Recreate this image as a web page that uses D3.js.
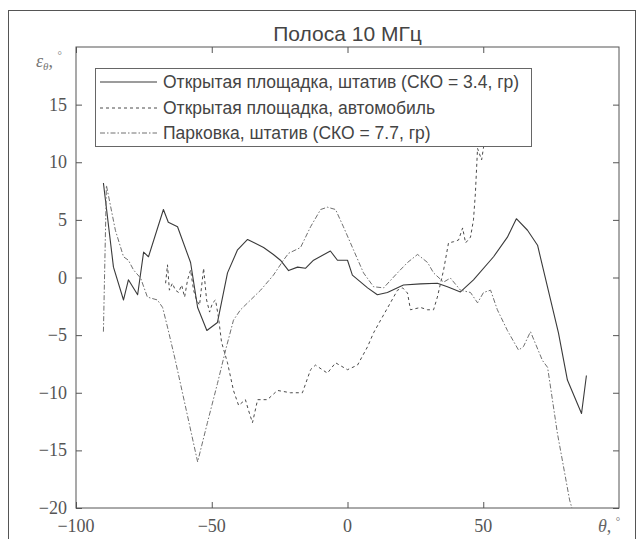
<!DOCTYPE html>
<html>
<head>
<meta charset="utf-8">
<script src="https://cdn.jsdelivr.net/npm/d3@7"></script>
<style>
  html, body { margin: 0; padding: 0; background: #fff; }
  svg { display: block; }
</style>
</head>
<body>
<svg id="chart" width="642" height="539"></svg>
<script>
// Angle error vs. direction, 10 MHz band, three measurement setups
const thetaTripod = [-89.9,-86.2,-82.5,-80.7,-77.3,-75.1,-73.3,-67.8,-66.0,-62.6,-57.8,-55.2,-51.8,-47.9,-44.2,-40.5,-36.8,-30.9,-27.3,-24.7,-21.7,-18.4,-15.5,-12.5,-6.3,-3.7,0,1.8,7.4,11.0,14.7,20.6,26.9,33.1,36.8,41.6,46.4,53.8,58.9,62.2,66.3,70.0,74.8,77.7,81.0,86.2,88.0];
const epsTripod   = [8.2,0.9,-1.95,-0.2,-1.5,2.2,1.8,5.9,4.8,4.4,1.3,-2.6,-4.6,-3.9,0.4,2.4,3.3,2.6,2.0,1.5,0.6,0.9,0.8,1.5,2.3,1.5,1.5,0.2,-0.9,-1.5,-1.3,-0.65,-0.55,-0.5,-0.8,-1.25,-0.2,1.8,3.5,5.1,4.1,2.8,-1.95,-4.8,-8.9,-11.8,-8.5];

const thetaCar = [-67.0,-66.3,-65.6,-64.5,-63.4,-62.2,-61.1,-60.0,-58.9,-57.8,-56.7,-55.6,-54.5,-53.0,-51.9,-50.8,-49.7,-48.6,-47.5,-46.4,-44.2,-42.0,-40.1,-37.6,-36.5,-35.0,-33.1,-29.5,-25.8,-21.0,-16.6,-13.6,-11.8,-7.4,-4.4,0,3.7,7.4,9.6,12.2,15.8,18.4,20.3,22.1,23.2,26.9,29.5,31.7,33.1,35.4,37.2,39.0,40.9,42.4,43.5,45.3,46.4,47.1,47.9,49.4,50.5,51.6];
const epsCar   = [-0.5,1.1,-1.1,-0.5,-1.1,-1.3,-0.65,-1.7,-0.2,0.65,-1.1,-1.95,-2.4,0.8,-1.95,-3.0,-2.2,-1.95,-3.5,-5.6,-7.4,-9.8,-11.1,-10.6,-11.5,-12.6,-10.6,-10.6,-9.8,-10.0,-10.0,-8.0,-7.6,-8.3,-7.4,-8.0,-7.6,-6.0,-4.8,-3.7,-2.2,-1.1,-0.9,-1.35,-2.8,-2.6,-2.8,-2.8,-1.7,0.65,3.0,3.1,3.25,4.3,3.0,3.5,5.0,7.3,11.2,10.2,11.9,14.5];

const thetaParking = [-89.9,-88.8,-85.5,-82.5,-80.7,-78.8,-76.2,-73.7,-70.0,-68.1,-66.3,-63.4,-55.2,-51.6,-47.9,-44.9,-42.0,-39.4,-35.7,-32.0,-27.3,-23.6,-21.7,-17.3,-13.6,-9.9,-7.4,-4.4,-1.5,2.2,5.9,9.6,13.3,18.4,22.1,25.8,29.5,31.7,35.4,37.9,41.6,45.3,47.9,50.1,52.7,55.2,58.9,63.0,64.8,67.4,71.8,73.7,77.3,81.8,82.9];
const epsParking   = [-4.7,8.0,4.1,1.8,1.5,0.65,-0.05,-1.7,-1.95,-2.6,-4.3,-7.2,-16.0,-12.6,-9.2,-6.3,-3.7,-2.8,-1.95,-1.1,0.2,1.5,2.1,2.6,4.4,5.9,6.1,5.9,4.4,2.4,0.4,-0.8,-0.9,0.4,1.3,2.0,1.3,0.4,-0.4,-0.05,-1.1,-1.3,-2.2,-1.3,-1.1,-2.8,-4.6,-6.3,-6.0,-4.7,-7.2,-7.8,-13.5,-19.3,-20.2];

const seriesNames = [
  "Открытая площадка, штатив (СКО = 3.4, гр)",
  "Открытая площадка, автомобиль",
  "Парковка, штатив (СКО = 7.7, гр)"
];
const xTicks = [-100, -50, 0, 50];
const yTicks = [-20, -15, -10, -5, 0, 5, 10, 15];

const styles = [
  { stroke: "#3a3a3a", dash: null, width: 1.1 },
  { stroke: "#4a4a4a", dash: "3,3", width: 1.0 },
  { stroke: "#707070", dash: "5,2,1.5,2", width: 1.0 }
];

const svg = d3.select("#chart");
const M = { left: 76, right: 619, top: 47, bottom: 508 };

const x = d3.scaleLinear().domain([-100, 100]).range([M.left, M.right]);
const y = d3.scaleLinear().domain([-20, 20]).range([M.bottom, M.top]);

// outer figure frame
svg.append("rect")
  .attr("x", 8.5).attr("y", 10.5).attr("width", 627).attr("height", 540)
  .attr("fill", "none").attr("stroke", "#555").attr("stroke-width", 1);

// title
svg.append("text")
  .attr("x", (M.left + M.right) / 2).attr("y", 41)
  .attr("text-anchor", "middle")
  .style("font-family", "'Liberation Sans', Arial, sans-serif")
  .style("font-size", "21px").attr("fill", "#444")
  .text("Полоса 10 МГц");

const plot = svg.append("g");
const clip = svg.append("clipPath").attr("id", "plotClip");
clip.append("rect").attr("x", M.left).attr("y", M.top)
  .attr("width", M.right - M.left).attr("height", M.bottom - M.top);

// data lines
const lineGen = d3.line().x(d => x(d[0])).y(d => y(d[1]));
const series = [
  d3.zip(thetaTripod, epsTripod),
  d3.zip(thetaCar, epsCar),
  d3.zip(thetaParking, epsParking)
];
const lines = plot.append("g").attr("clip-path", "url(#plotClip)");
series.forEach((s, i) => {
  lines.append("path")
    .datum(s)
    .attr("d", lineGen)
    .attr("fill", "none")
    .attr("stroke", styles[i].stroke)
    .attr("stroke-width", styles[i].width)
    .attr("stroke-dasharray", styles[i].dash)
    .attr("stroke-linejoin", "round");
});

// axes box with inward ticks on all four sides
const axisColor = "#555";
const tickLen = 6;
const bottomAxis = d3.axisBottom(x).tickValues(xTicks).tickSizeInner(-tickLen).tickSizeOuter(0).tickFormat("");
const topAxis = d3.axisTop(x).tickValues(xTicks).tickSizeInner(-tickLen).tickSizeOuter(0).tickFormat("");
const leftAxis = d3.axisLeft(y).tickValues(yTicks).tickSizeInner(-tickLen).tickSizeOuter(0).tickFormat("");
const rightAxis = d3.axisRight(y).tickValues(yTicks).tickSizeInner(-tickLen).tickSizeOuter(0).tickFormat("");

[[bottomAxis, `translate(0,${M.bottom})`], [topAxis, `translate(0,${M.top})`],
 [leftAxis, `translate(${M.left},0)`], [rightAxis, `translate(${M.right},0)`]].forEach(([ax, tr]) => {
  const g = svg.append("g").attr("transform", tr).call(ax);
  g.selectAll("line").attr("stroke", axisColor);
  g.select(".domain").remove();
});
svg.append("rect")
  .attr("x", M.left).attr("y", M.top)
  .attr("width", M.right - M.left).attr("height", M.bottom - M.top)
  .attr("fill", "none").attr("stroke", axisColor).attr("stroke-width", 1);

// tick labels (serif, with real minus signs)
const serif = "'Liberation Serif', 'Times New Roman', serif";
const fmt = v => (v < 0 ? "\u2212" + Math.abs(v) : String(v));
svg.append("g").selectAll("text").data(xTicks).join("text")
  .attr("x", d => x(d)).attr("y", 532)
  .attr("text-anchor", "middle")
  .style("font-family", serif).style("font-size", "18px").attr("fill", "#555")
  .text(fmt);
svg.append("g").selectAll("text").data(yTicks).join("text")
  .attr("x", 67).attr("y", d => y(d) + 6)
  .attr("text-anchor", "end")
  .style("font-family", serif).style("font-size", "18px").attr("fill", "#555")
  .text(fmt);

// axis captions in place of the last tick labels
const xCap = svg.append("text")
  .attr("x", 598).attr("y", 532)
  .style("font-family", serif).style("font-size", "18px").attr("fill", "#666");
xCap.append("tspan").style("font-style", "italic").text("θ");
xCap.append("tspan").text(", ");
xCap.append("tspan").attr("dy", -7).style("font-size", "11px").text("°");

const yCap = svg.append("text")
  .attr("x", 36).attr("y", 67)
  .style("font-family", serif).style("font-size", "18px").attr("fill", "#777");
yCap.append("tspan").style("font-style", "italic").text("ε");
yCap.append("tspan").attr("dy", 3).style("font-size", "11px").style("font-style", "italic").text("θ");
yCap.append("tspan").attr("dy", -3).text(", ");
yCap.append("tspan").attr("dy", -8).style("font-size", "11px").text("°");

// legend
const legend = svg.append("g");
legend.append("rect")
  .attr("x", 95.5).attr("y", 68.5).attr("width", 436).attr("height", 78)
  .attr("fill", "#fff").attr("stroke", "#666").attr("stroke-width", 1);
const rowY = [82, 108, 133];
seriesNames.forEach((name, i) => {
  legend.append("line")
    .attr("x1", 100).attr("x2", 157)
    .attr("y1", rowY[i]).attr("y2", rowY[i])
    .attr("stroke", styles[i].stroke)
    .attr("stroke-width", styles[i].width)
    .attr("stroke-dasharray", styles[i].dash);
  legend.append("text")
    .attr("x", 163).attr("y", rowY[i] + 6)
    .attr("textLength", null)
    .style("font-family", "'Liberation Sans', Arial, sans-serif")
    .style("font-size", "17.5px").attr("fill", "#444")
    .text(name);
});
</script>
</body>
</html>
